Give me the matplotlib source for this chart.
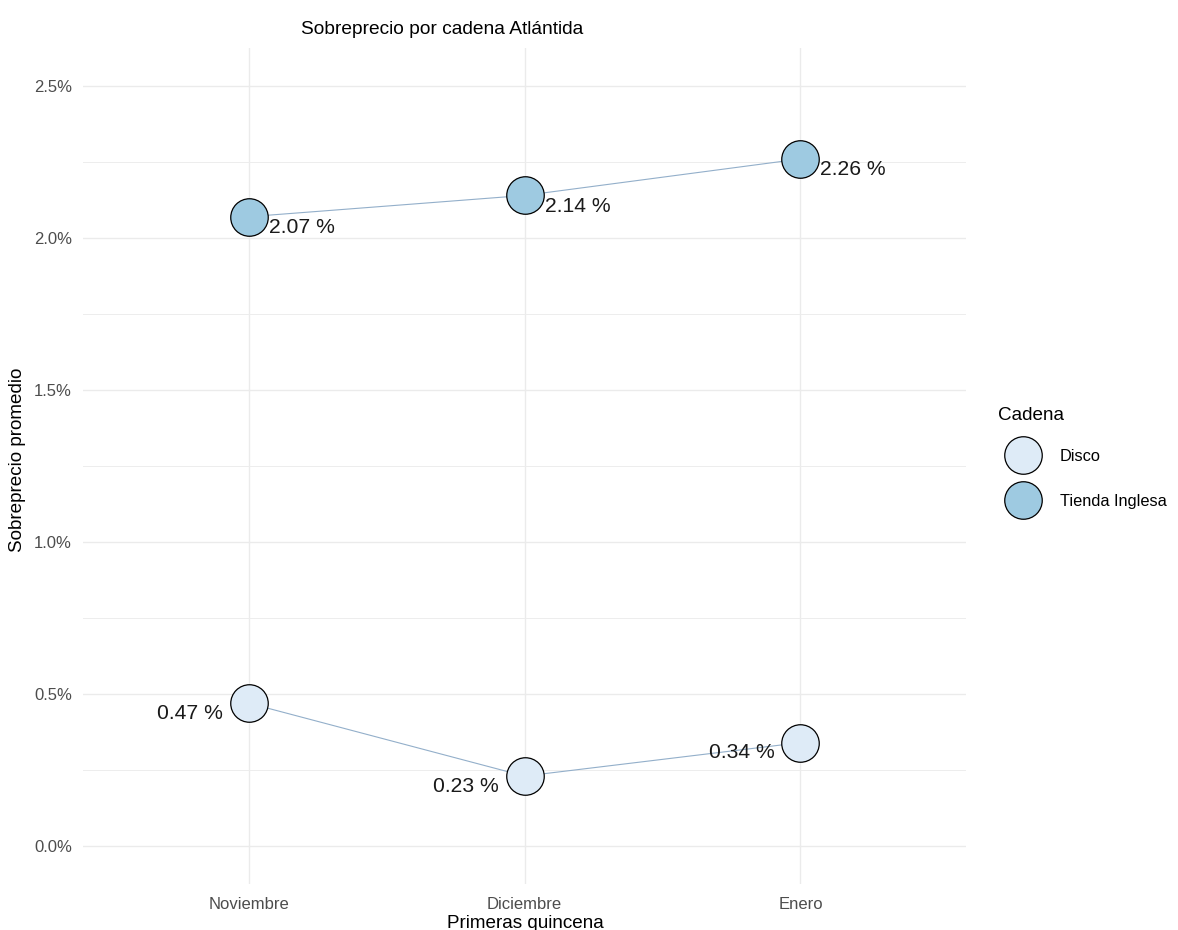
import matplotlib.pyplot as plt
from matplotlib.lines import Line2D
from matplotlib.ticker import FuncFormatter, MultipleLocator

plt.rcParams['font.family'] = ['Liberation Sans', 'DejaVu Sans']

meses = ['Noviembre', 'Diciembre', 'Enero']
cadenas = ['Disco', 'Tienda Inglesa']
disco = [0.47, 0.23, 0.34]
tienda = [2.07, 2.14, 2.26]

colores = {'Disco': '#deebf7', 'Tienda Inglesa': '#9ecae1'}
line_color = '#93afca'

fig = plt.figure(figsize=(11.78, 9.30), dpi=100)
ax = fig.add_axes([83 / 1178, 1 - 884 / 930, (966 - 83) / 1178, (884 - 48) / 930])

x = list(range(len(meses)))
for nombre, vals in [('Disco', disco), ('Tienda Inglesa', tienda)]:
    ax.plot(x, vals, color=line_color, lw=0.8, zorder=2)
    ax.plot(x, vals, 'o', ms=27, mfc=colores[nombre], mec='black', mew=0.9,
            zorder=3)
    for xi, v in zip(x, vals):
        if nombre == 'Disco':
            off, ha = (-26 * 0.72, -10 * 0.72), 'right'
        else:
            off, ha = (20 * 0.72, -11 * 0.72), 'left'
        ax.annotate(f'{v:.2f} %', (xi, v), xytext=off, textcoords='offset points',
                    ha=ha, va='center', fontsize=15.2, color='#1a1a1a', zorder=4)

ax.set_xlim(-0.6, 2.6)
ax.set_ylim(-0.125, 2.625)
ax.set_xticks(x)
ax.set_xticklabels(meses)
ax.yaxis.set_major_locator(MultipleLocator(0.5))
ax.yaxis.set_minor_locator(MultipleLocator(0.25))
ax.yaxis.set_major_formatter(FuncFormatter(lambda v, p: f'{v:.1f}%'))

ax.grid(True, which='major', color='#ebebeb', lw=1.0)
ax.grid(True, which='minor', axis='y', color='#ededed', lw=0.7)
ax.set_axisbelow(True)
for s in ax.spines.values():
    s.set_visible(False)
ax.tick_params(which='both', length=0, labelsize=12, labelcolor='#4d4d4d')
ax.tick_params(axis='x', pad=9)
ax.tick_params(axis='y', pad=8)

fig.text(442 / 1178, 1 - 30 / 930, 'Sobreprecio por cadena Atlántida',
         ha='center', va='center', fontsize=13.8)
fig.text(525 / 1178, 1 - 923 / 930, 'Primeras quincena',
         ha='center', va='center', fontsize=13.6)
fig.text(18 / 1178, 1 - 460 / 930, 'Sobreprecio promedio', rotation=90,
         ha='center', va='center', fontsize=13.6)

# legend title drawn separately so the key spacing can match
fig.text(998 / 1178, 1 - 415 / 930, 'Cadena', ha='left', va='center',
         fontsize=13.6)
handles = [Line2D([], [], ls='none', marker='o', ms=27, mfc=colores[c],
                  mec='black', mew=0.9) for c in cadenas]
leg = fig.legend(handles, cadenas, loc='upper left',
                 bbox_to_anchor=(990 / 1178, 1 - 442 / 930), frameon=False,
                 fontsize=11.8, labelspacing=1.85,
                 handlelength=3.2, handletextpad=0.65, borderaxespad=0)

fig.savefig('out.png', dpi=100)
